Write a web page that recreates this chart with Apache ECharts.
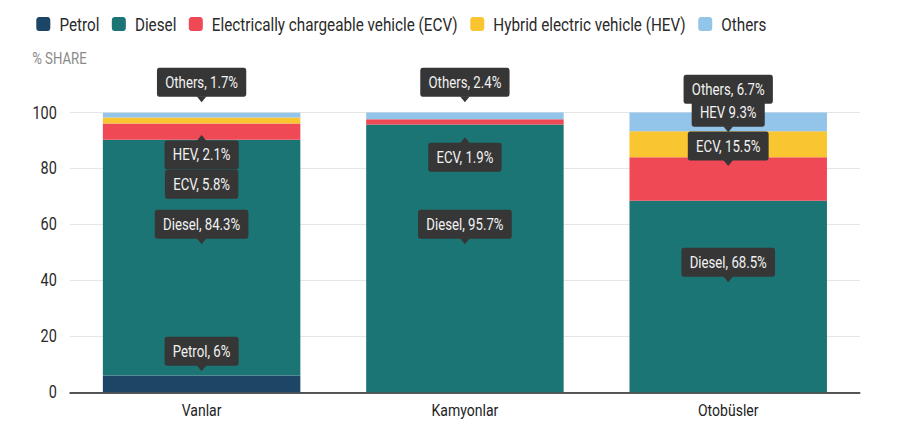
<!DOCTYPE html>
<html>
<head>
<meta charset="utf-8">
<script src="https://cdn.jsdelivr.net/npm/echarts@6/dist/echarts.min.js"></script>
<style>
html,body{margin:0;padding:0;background:#fff;overflow:hidden;width:900px;height:432px;}
#chart{width:1091px;height:432px;transform:scaleX(0.8249);transform-origin:0 0;}
</style>
</head>
<body>
<div id="chart"></div>
<script>
// ---- data ----
var categories = ['Vanlar', 'Kamyonlar', 'Otobüsler'];
var seriesNames = ['Petrol', 'Diesel', 'Electrically chargeable vehicle (ECV)', 'Hybrid electric vehicle (HEV)', 'Others'];
var shortNames = ['Petrol', 'Diesel', 'ECV', 'HEV', 'Others'];
var petrol = [6, 0, 0];
var diesel = [84.3, 95.7, 68.5];
var ecv = [5.8, 1.9, 15.5];
var hev = [2.1, 0, 9.3];
var others = [1.7, 2.4, 6.7];
var yTicks = [0, 20, 40, 60, 80, 100];
var axisTitle = '% SHARE';
// annotation boxes: [category index, series index, vertical anchor (value units), arrow, separator]
var annotations = [
  [0, 4, 110.8, 'down', ', '],
  [0, 3, 84.8, 'up', ', '],
  [0, 2, 74.4, 'none', ', '],
  [0, 1, 60.1, 'down', ', '],
  [0, 0, 14.7, 'down', ', '],
  [1, 4, 110.8, 'down', ', '],
  [1, 2, 84.0, 'up', ', '],
  [1, 1, 60.1, 'down', ', '],
  [2, 4, 108.3, 'none', ', '],
  [2, 3, 100.1, 'down', ' '],
  [2, 2, 88.0, 'down', ', '],
  [2, 1, 46.5, 'down', ', ']
];

var colors = ['#1c4566', '#1b7575', '#ef4956', '#f9c530', '#93c4e9'];
var allValues = [petrol, diesel, ecv, hev, others];

var barSeries = seriesNames.map(function (n, i) {
  return {
    name: n,
    type: 'bar',
    stack: 'total',
    barCategoryGap: '25%',
    data: allValues[i],
    itemStyle: { color: colors[i] },
    emphasis: { disabled: true },
    z: 2
  };
});

var annData = annotations.map(function (a) {
  var v = allValues[a[1]][a[0]];
  return [a[0], a[2], shortNames[a[1]] + a[4] + v + '%', a[3]];
});

var annSeries = {
  type: 'custom',
  name: 'annotations',
  z: 10,
  clip: false,
  silent: true,
  encode: { x: 0, y: 1 },
  data: annData,
  renderItem: function (params, api) {
    var p = api.coord([api.value(0), api.value(1)]);
    var x = p[0], y = p[1];
    var item = annData[params.dataIndex];
    var text = item[2], arrow = item[3];
    var bg = '#363636';
    var children = [];
    var hw = 6, ah = 6;
    if (arrow === 'down') {
      children.push({ type: 'polygon', shape: { points: [[x - hw, y + 14], [x + hw, y + 14], [x, y + 14 + ah]] }, style: { fill: bg } });
    } else if (arrow === 'up') {
      children.push({ type: 'polygon', shape: { points: [[x - hw, y - 14], [x + hw, y - 14], [x, y - 14 - ah]] }, style: { fill: bg } });
    }
    children.push({
      type: 'text',
      x: x, y: y,
      style: {
        text: text,
        fill: '#f2f2f2',
        font: '16px Roboto',
        align: 'center',
        verticalAlign: 'middle',
        backgroundColor: bg,
        padding: [7, 10, 6, 10],
        borderRadius: 3
      }
    });
    return { type: 'group', children: children };
  }
};

var chart = echarts.init(document.getElementById('chart'), null, { renderer: 'svg' });
chart.setOption({
  animation: false,
  textStyle: { fontFamily: 'Roboto' },
  legend: {
    data: seriesNames,
    left: 39,
    top: 9,
    icon: 'roundRect',
    itemWidth: 17,
    itemHeight: 14,
    itemGap: 15,
    selectedMode: false,
    textStyle: { fontSize: 18.5, color: '#2a2a2a', fontFamily: 'Roboto', lineHeight: 20, padding: [0, 0, 0, 6] }
  },
  graphic: [{
    type: 'text',
    left: 39,
    top: 51,
    style: { text: axisTitle, fill: '#8a8a8a', font: '16px Roboto' }
  }],
  grid: { left: 84.8, right: 48.6, top: 112.5, bottom: 39.7, containLabel: false },
  xAxis: {
    type: 'category',
    data: categories,
    axisTick: { show: false },
    axisLine: { lineStyle: { color: '#222', width: 1.5 } },
    axisLabel: { color: '#222', fontSize: 17, margin: 10 }
  },
  yAxis: {
    type: 'value',
    min: yTicks[0],
    max: yTicks[yTicks.length - 1],
    interval: yTicks[1] - yTicks[0],
    axisLine: { show: false },
    axisTick: { show: false },
    axisLabel: { color: '#2a2a2a', fontSize: 17.5, margin: 16 },
    splitLine: { lineStyle: { color: '#e2e2e2', width: 1 } }
  },
  series: barSeries.concat([annSeries])
});
</script>
</body>
</html>
